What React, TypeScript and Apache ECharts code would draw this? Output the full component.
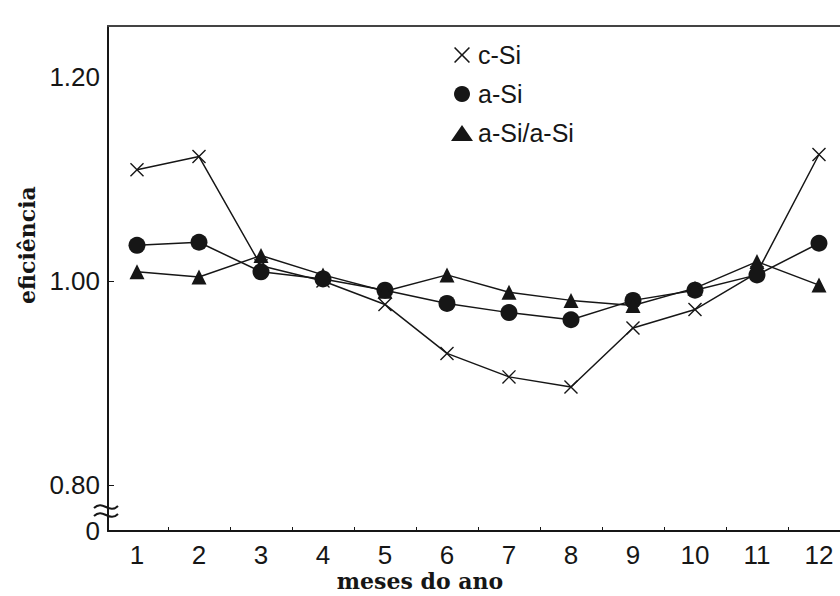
import React, { useEffect, useRef } from "react";
import * as echarts from "echarts";

const months = [1, 2, 3, 4, 5, 6, 7, 8, 9, 10, 11, 12];
const cSi = [1.109, 1.122, 1.015, 1.0, 0.977, 0.929, 0.906, 0.896, 0.954, 0.972, 1.008, 1.124];
const aSi = [1.035, 1.038, 1.009, 1.002, 0.991, 0.978, 0.969, 0.962, 0.981, 0.991, 1.006, 1.037];
const aSiaSi = [1.009, 1.004, 1.025, 1.006, 0.99, 1.006, 0.989, 0.981, 0.976, 0.993, 1.019, 0.996];
const seriesNames = ["c-Si", "a-Si", "a-Si/a-Si"];
const yTickValues = [0.8, 1.0, 1.2];
const xTickMarks = [1.5, 2.5, 3.5, 4.5, 5.5, 6.5, 7.5, 8.5, 9.5, 10.5, 11.5];

const X_MIN = 0.5323;
const X_MAX = 12.339;
const Y_MIN = 0.7549;
const Y_MAX = 1.25;

const CROSS =
  "path://M0,0.7L0.7,0L5,4.3L9.3,0L10,0.7L5.7,5L10,9.3L9.3,10L5,5.7L0.7,10L0,9.3L4.3,5Z";

const INK = "#161616";
const tickFont = { fontFamily: "Liberation Sans, Arial, sans-serif", fontSize: 26, color: INK };

export default function App() {
  const ref = useRef<HTMLDivElement>(null);

  useEffect(() => {
    if (!ref.current) return;
    const chart = echarts.init(ref.current, undefined, { renderer: "svg" });
    const toPairs = (arr: number[]) => months.map((m, i) => [m, arr[i]]);
    const lineStyle = { color: INK, width: 1.5 };

    chart.setOption({
      animation: false,
      backgroundColor: "#fff",
      grid: { left: 108, top: 26, right: 0, bottom: 65 },
      legend: {
        orient: "vertical",
        left: 446,
        top: 37,
        itemWidth: 22,
        itemHeight: 16,
        itemGap: 13,
        textStyle: { ...tickFont, fontSize: 25, lineHeight: 26 },
        data: [
          { name: "c-Si", icon: CROSS, itemStyle: { color: INK } },
          { name: "a-Si", icon: "circle", itemStyle: { color: INK } },
          { name: "a-Si/a-Si", icon: "triangle", itemStyle: { color: INK } },
        ],
      },
      xAxis: [
        {
          type: "value",
          min: X_MIN,
          max: X_MAX,
          axisLine: { show: true, lineStyle: { color: INK, width: 2 } },
          axisTick: {
            show: true,
            inside: true,
            length: 4,
            customValues: xTickMarks,
            lineStyle: { color: INK, width: 1 },
          },
          axisLabel: {
            ...tickFont,
            margin: 11,
            customValues: months,
            formatter: (v: number) => String(Math.round(v)),
          },
          splitLine: { show: false },
        },
        {
          type: "value",
          position: "top",
          min: X_MIN,
          max: X_MAX,
          axisLine: { show: true, onZero: false, lineStyle: { color: "#444", width: 2 } },
          axisTick: { show: false },
          axisLabel: { show: false },
          splitLine: { show: false },
        },
      ],
      yAxis: {
        type: "value",
        min: Y_MIN,
        max: Y_MAX,
        axisLine: { show: true, lineStyle: { color: INK, width: 2 } },
        axisTick: {
          show: true,
          inside: true,
          length: 6,
          customValues: [0.8, 1.0],
          lineStyle: { color: INK, width: 1 },
        },
        axisLabel: {
          ...tickFont,
          margin: 8,
          customValues: [Y_MIN, ...yTickValues],
          formatter: (v: number) => (v < 0.79 ? "0" : v.toFixed(2)),
        },
        splitLine: { show: false },
      },
      series: [
        {
          name: seriesNames[0],
          type: "line",
          data: toPairs(cSi),
          symbol: CROSS,
          symbolSize: 14,
          itemStyle: { color: INK },
          lineStyle,
          z: 3,
        },
        {
          name: seriesNames[1],
          type: "line",
          data: toPairs(aSi),
          symbol: "circle",
          symbolSize: 17,
          itemStyle: { color: INK },
          lineStyle,
          z: 4,
        },
        {
          name: seriesNames[2],
          type: "line",
          data: toPairs(aSiaSi),
          symbol: "triangle",
          symbolSize: 15,
          itemStyle: { color: INK },
          lineStyle,
          z: 5,
        },
      ],
    });

    const brk = chart.convertToPixel({ gridIndex: 0 }, [X_MIN, 0.7745]) as number[];
    const wave = (dy: number) => ({
      type: "bezierCurve",
      shape: {
        x1: -12, y1: dy + 1,
        x2: 12, y2: dy - 1,
        cpx1: -3, cpy1: dy - 8,
        cpx2: 3, cpy2: dy + 8,
      },
      style: { stroke: INK, lineWidth: 2, fill: "none" },
    });

    chart.setOption({
      graphic: [
        {
          type: "group",
          x: brk[0] - 2,
          y: brk[1],
          z: 100,
          children: [
            { type: "rect", shape: { x: -3, y: -3, width: 7, height: 6 }, style: { fill: "#fff" } },
            wave(-4),
            wave(4),
          ],
        },
        {
          type: "text",
          x: 27,
          y: 245,
          rotation: Math.PI / 2,
          style: {
            text: "eficiência",
            font: 'bold 22px "DejaVu Serif"',
            fill: INK,
            textAlign: "center",
            textVerticalAlign: "middle",
          },
        },
        {
          type: "text",
          x: 420,
          y: 581,
          style: {
            text: "meses do ano",
            font: 'bold 22px "DejaVu Serif"',
            fill: INK,
            textAlign: "center",
            textVerticalAlign: "middle",
          },
        },
      ],
    });

    return () => chart.dispose();
  }, []);

  return (
    <div
      ref={ref}
      style={{ position: "fixed", left: 0, top: 0, width: 840, height: 596, background: "#fff" }}
    />
  );
}
